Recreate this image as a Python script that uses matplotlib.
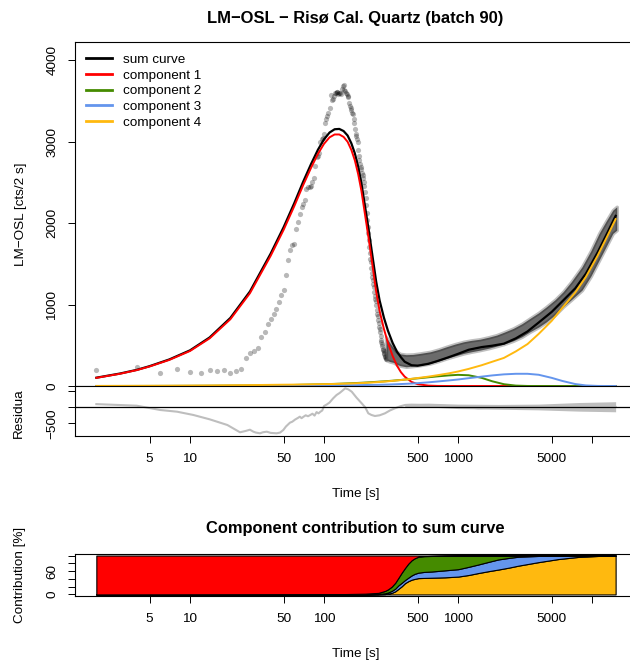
import numpy as np
import matplotlib
matplotlib.use("Agg")
import matplotlib.pyplot as plt

plt.rcParams['font.family'] = ['Liberation Sans', 'DejaVu Sans']

# ---------------------------------------------------------------------------
# data
# ---------------------------------------------------------------------------
# measured LM-OSL counts, 2 s channels (sparse part of the curve)
pts_counts = [195, 228, 158, 204, 171, 162, 192, 187, 195, 162, 183, 208,
              339, 404, 430, 470, 600, 666, 760, 820, 880, 950, 1030, 1120,
              1180, 1360, 1550, 1670, 1730, 1750, 1930, 2020, 2110, 2200,
              2240, 2280, 2420, 2440, 2450, 2460, 2500, 2550, 2700, 2810,
              2830, 2860, 3000, 3040, 3050, 3100, 3230, 3280, 3320, 3350,
              3420, 3570, 3510, 3530, 3560, 3595, 3600, 3610, 3615, 3590,
              3595, 3600, 3590, 3650, 3690, 3700, 3640, 3630, 3600, 3590,
              3560, 3550, 3480, 3440, 3410, 3390, 3350, 3340, 3280, 3230,
              3160, 3100, 3070, 3030, 3000, 2900, 2820, 2780, 2730, 2690,
              2660, 2620, 2590, 2560, 2500, 2460, 2380, 2310, 2220, 2120,
              2040, 1950, 1880, 1790, 1710, 1630, 1560, 1520, 1450, 1390,
              1340, 1300, 1250, 1220, 1160, 1110, 1070, 1040, 990, 930,
              890, 860, 810, 770, 730, 700, 660, 610, 570, 540, 510, 490,
              460, 445, 430, 410, 390, 370, 355, 345, 335]
pts_time = list(range(2, 2 * len(pts_counts) + 2, 2))

# dense part of the measured curve: upper / lower edge of the point cloud
band_time = [290, 310, 330, 350, 370, 410, 460, 520, 620, 720, 820, 950,
             1100, 1250, 1460, 1700, 1940, 2200, 2580, 3000, 3440, 4000,
             4570, 5300, 6080, 7000, 8420, 9800, 11300, 12800, 14300, 15300]
band_hi = [600, 530, 470, 420, 395, 385, 388, 400, 420, 450, 482, 515, 543,
           560, 575, 600, 625, 660, 707, 765, 830, 900, 973, 1060, 1157,
           1280, 1464, 1660, 1875, 2030, 2161, 2202]
band_lo = [320, 300, 290, 265, 250, 236, 244, 255, 277, 308, 339, 370, 400,
           420, 441, 465, 490, 515, 555, 605, 666, 725, 789, 875, 973, 1060,
           1178, 1350, 1547, 1720, 1875, 1915]

# fitted curves
fit_time = [2, 3, 4, 5, 7, 10, 14, 20, 28, 40, 50, 60, 70, 80, 90, 100, 110,
            120, 130, 140, 150, 160, 170, 180, 190, 200, 215, 230, 245, 260,
            280, 300, 325, 350, 375, 400, 450, 500, 600, 700, 850, 1000,
            1200, 1500, 1800, 2200, 2700, 3300, 4000, 5000, 6000, 7500,
            9000, 11000, 13000, 15000]
sum_curve = [102, 153, 198, 244, 326, 438, 596, 836, 1161, 1627, 1952, 2246,
             2512, 2726, 2901, 3030, 3114, 3154, 3158, 3132, 3077, 2981,
             2856, 2691, 2496, 2260, 1928, 1595, 1283, 1050, 839, 679, 530,
             422, 353, 298, 255, 249, 272, 306, 353, 395, 445, 478, 495,
             520, 585, 670, 780, 910, 1040, 1200, 1380, 1640, 1880, 2090]
comp1 = [100, 150, 195, 240, 320, 430, 585, 820, 1140, 1600, 1920, 2210,
         2470, 2680, 2850, 2975, 3055, 3090, 3090, 3060, 3000, 2900, 2770,
         2600, 2400, 2160, 1820, 1480, 1160, 920, 700, 530, 370, 250, 170,
         115, 50, 22, 5, 1, 0, 0, 0, 0, 0, 0, 0, 0, 0, 0, 0, 0, 0, 0, 0, 0]
comp2 = [0.5, 0.7, 1, 1.2, 1.7, 2.4, 3.3, 4.7, 6.5, 9, 11, 13, 15.5, 18, 20,
         22, 24, 26, 28, 30, 32, 34, 36, 38, 40, 42, 45, 48, 51, 54, 57, 61,
         65, 70, 74, 79, 87, 94, 107, 118, 130, 137, 132, 100, 58, 22, 5,
         0.5, 0, 0, 0, 0, 0, 0, 0, 0]
comp3 = [0.1, 0.2, 0.2, 0.3, 0.4, 0.6, 0.8, 1.2, 1.7, 2.4, 3, 3.6, 4.2, 4.8,
         5.4, 6, 6.6, 7.2, 7.8, 8.4, 9, 9.6, 10.2, 10.8, 11.4, 12, 12.8, 13.6,
         14.4, 15.2, 16.4, 18, 20, 22, 24, 26, 30, 35, 45, 55, 68, 80, 96,
         115, 130, 143, 150, 150, 138, 100, 62, 24, 7, 1, 0, 0]
comp4 = [1, 1.5, 2, 2.5, 3.5, 5, 6.5, 9, 11, 14, 16, 17, 19, 20, 22, 23, 24,
         25, 27, 28.5, 30, 31.5, 33, 35, 36.5, 38, 41, 44, 47, 50, 54, 58,
         63, 68, 73, 78, 88, 98, 115, 132, 155, 178, 210, 255, 298, 345,
         425, 515, 640, 800, 960, 1150, 1340, 1600, 1840, 2050]

# residuals
res_time = [2, 4, 6, 8, 10.6, 14, 19, 23.6, 26, 28, 29.7, 31, 33.3, 35,
            37.4, 40, 44.3, 47, 49.7, 52, 55.7, 58, 61, 64, 66, 68, 70, 73,
            76, 79, 82, 85, 88, 91, 94, 97, 100, 105, 110, 117, 124, 131,
            139, 144, 152, 161, 175, 191, 203, 214, 226, 240, 260, 285, 310,
            338, 370, 402, 450, 506, 600, 800, 1000, 1416, 2000, 2510, 3500,
            4470, 6000, 7900, 10000, 12500, 15000]
res_value = [100, 50, -84, -137, -240, -375, -553, -781, -740, -700, -762,
             -790, -813, -780, -762, -800, -813, -790, -709, -600, -480,
             -450, -380, -330, -293, -340, -300, -250, -280, -240, -200,
             -260, -150, -190, -137, -100, 40, 90, 150, 280, 384, 450, 540,
             593, 560, 488, 300, 125, 0, -188, -240, -272, -250, -188, -100,
             -31, 30, 72, 80, 72, 55, 40, 25, -31, 0, 40, 20, 10, 5, 10, 10,
             10, 10]
res_band_time = [400, 600, 1000, 2000, 4000, 8000, 15000]
res_band_hi = [120, 130, 100, 90, 100, 150, 175]
res_band_lo = [20, 10, -40, -60, -80, -120, -140]

# component contribution to the sum curve [%]
con_time = [2, 144, 202, 254, 285, 300, 320, 340, 358, 380, 402, 425, 451,
            475, 506, 560, 636, 800, 1005, 1200, 1416, 1700, 1998, 2400,
            2818, 3974, 5607, 7908, 11150, 15000]
con_comp4 = [0, 0, 0, 0.5, 1, 2, 4, 8, 14, 21, 29, 34, 38, 40, 42, 42.5, 43,
             44, 46, 50, 55, 60, 64, 69, 74, 83, 91, 96.5, 99, 100]
con_comp3 = [0, 0, 0.5, 0.5, 2, 3, 5, 7, 9, 9, 8, 9, 11, 13, 14, 15.5, 16,
             18, 19, 21, 22, 24, 26, 25, 23, 16, 9, 3.5, 1, 0]
con_comp2 = [0, 1, 1.5, 3, 6, 8, 11, 15, 19, 26, 31, 36, 39, 40, 41, 40.5,
             40, 37.7, 35, 29, 23, 16, 10, 6, 3, 1, 0, 0, 0, 0]
con_comp1 = [100, 99, 98, 96, 91, 87, 80, 70, 58, 44, 32, 21, 12, 7, 3, 1.5,
             1, 0.3, 0, 0, 0, 0, 0, 0, 0, 0, 0, 0, 0, 0]

x_ticks = [5, 10, 50, 100, 500, 1000, 5000, 10000]
x_ticklabels = ['5', '10', '50', '100', '500', '1000', '5000', '']

col_sum = 'black'
col_comp = ['#FF0000', '#458B00', '#6495ED', '#FFB90F']
comp_labels = ['component 1', 'component 2', 'component 3', 'component 4']

# ---------------------------------------------------------------------------
# figure layout (pixel boxes of the reference)
# ---------------------------------------------------------------------------
W, H = 630, 664
FS = 9.7
fig = plt.figure(figsize=(W / 100, H / 100), dpi=100)


def add_axes_px(left, top, right, bottom):
    return fig.add_axes([left / W, 1 - bottom / H, (right - left) / W, (bottom - top) / H])


ax_main = add_axes_px(75, 42, 636, 386)
ax_res = add_axes_px(75, 386, 636, 436)
ax_con = add_axes_px(75, 554, 636, 596)

xlim = (1.386, 21290)

for ax in (ax_main, ax_res, ax_con):
    ax.set_xscale('log')
    ax.set_xlim(*xlim)
    ax.minorticks_off()
    for sp in ax.spines.values():
        sp.set_linewidth(0.8)
    ax.tick_params(direction='out', length=5, width=0.7, labelsize=FS, pad=7)

# --- main panel --------------------------------------------------------------
ax_main.scatter(pts_time, pts_counts, s=14, color='black', alpha=0.28, lw=0, zorder=2)
ax_main.fill_between(band_time, band_lo, band_hi, facecolor='#6b6b6b',
                     edgecolor=(0, 0, 0, 0.25), lw=2.5, zorder=2)

ax_main.plot(fit_time, sum_curve, color=col_sum, lw=1.6, label='sum curve', zorder=3)
for vals, c, lab in zip([comp1, comp2, comp3, comp4], col_comp, comp_labels):
    ax_main.plot(fit_time, vals, color=c, lw=1.4, label=lab, zorder=4)

ax_main.set_ylim(0, 4226)
ax_main.set_yticks([0, 1000, 2000, 3000, 4000])
ax_main.set_xticks([])
ax_main.tick_params(axis='x', bottom=False, labelbottom=False)
for lab in ax_main.get_yticklabels():
    lab.set_rotation(90)
    lab.set_va('center')

leg = ax_main.legend(loc='upper left', bbox_to_anchor=(11 / 561, 0.966), frameon=False,
                     fontsize=FS, handlelength=1.9, handletextpad=0.85,
                     labelspacing=0.24, borderpad=0, borderaxespad=0)
for h in leg.get_lines():
    h.set_linewidth(2)

# --- residual panel --------------------------------------------------------
ax_res.fill_between(res_band_time, res_band_lo, res_band_hi, color='#BEBEBE', lw=0)
ax_res.plot(res_time, res_value, color='#BEBEBE', lw=1.5)
ax_res.axhline(0, color='black', lw=0.9)
ax_res.set_ylim(-897, 666)
ax_res.set_yticks([500, 0, -500])
ax_res.set_yticklabels(['', '', '\u2212500'])
for lab in ax_res.get_yticklabels():
    lab.set_rotation(90)
    lab.set_va('center')
ax_res.set_xticks(x_ticks)
ax_res.set_xticklabels(x_ticklabels)

# --- contribution panel ----------------------------------------------------
ax_con.stackplot(con_time, con_comp4, con_comp3, con_comp2, con_comp1,
                 colors=col_comp[::-1], edgecolor='black', linewidth=0.8)
ax_con.set_ylim(-4, 104)
ax_con.set_yticks([0, 20, 40, 60, 80, 100])
ax_con.set_yticklabels(['0', '', '', '60', '', ''])
for lab in ax_con.get_yticklabels():
    lab.set_rotation(90)
    lab.set_va('center')
ax_con.set_xticks(x_ticks)
ax_con.set_xticklabels(x_ticklabels)

# --- texts -------------------------------------------------------------------
fig.text(355.5 / W, 1 - 18 / H, 'LM\u2212OSL \u2212 Ris\u00f8 Cal. Quartz (batch 90)',
         ha='center', va='center', fontsize=11.9, fontweight='bold')
fig.text(355.5 / W, 1 - 529 / H, 'Component contribution to sum curve',
         ha='center', va='center', fontsize=11.9, fontweight='bold')
fig.text(355.5 / W, 1 - 494 / H, 'Time [s]', ha='center', va='center', fontsize=FS)
fig.text(355.5 / W, 1 - 654 / H, 'Time [s]', ha='center', va='center', fontsize=FS)
fig.text(21 / W, 1 - 214 / H, 'LM\u2212OSL [cts/2 s]', ha='center', va='center',
         rotation=90, fontsize=FS)
fig.text(19 / W, 1 - 413 / H, 'Residua', ha='center', va='center', rotation=90, fontsize=FS)
fig.text(20 / W, 1 - 575 / H, 'Contribution [%]', ha='center', va='center',
         rotation=90, fontsize=FS)

fig.savefig('out.png', dpi=100)
